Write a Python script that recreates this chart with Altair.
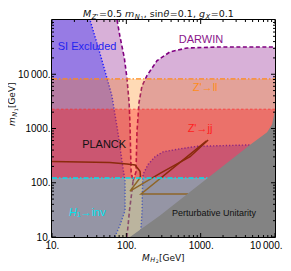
import altair as alt
import pandas as pd

# ---------------- values (GeV) ----------------
x_domain = [10, 10000]
y_domain = [10, 100000]
x_ticks = [10, 100, 1000, 10000]
x_tick_labels = ["10.", "100.", "1000.", "10\u2009000."]
y_ticks = [10, 100, 1000, 10000]
y_tick_labels = ["10.", "100.", "1000.", "10\u2009000."]
minor_multipliers = [2, 3, 4, 5, 6, 7, 8, 9]

# DARWIN projected reach (boundary of the excluded region)
darwin_left_y = [10, 30, 70, 107, 160, 400, 1200, 3000, 8400, 20000, 50000, 100000]
darwin_left_x = [102, 110, 119, 123, 116, 114, 112, 109, 102, 94, 82, 75]
darwin_right_y = [10, 30, 70, 107, 160, 850, 3000, 6000, 9500, 17800, 25900, 30500, 31700]
darwin_right_x = [102, 110, 119, 123, 135, 139, 148, 162, 190, 259, 387, 656, 1660]

# current SI direct-detection exclusion
si_left_y = [10, 16.5, 30.7, 107, 246, 855, 4000, 20100, 100000]
si_left_x = [70, 82, 96, 96, 87.5, 77, 64, 46, 32.5]
si_right_y = [10, 30.7, 80, 143, 217, 302, 372, 422, 470, 498, 500]
si_right_x = [155, 163, 165, 168, 196, 243, 313, 528, 894, 4640, 10000]

# horizontal limits
zll_limit = 8200
zjj_limit = 2270
h1inv_limit = 122

# perturbative unitarity boundary
unit_x = [112, 284, 790, 4640, 7830, 9130, 10000]
unit_y = [10, 25, 75, 500, 855, 1190, 2200]

# PLANCK relic-density contour
planck_a_x = [10, 60, 102, 131, 153, 155, 148, 112, 284, 720, 1260]
planck_a_y = [246, 236, 222, 213, 162, 131, 116, 70, 149, 302, 612]
planck_b_x = [676, 158, 1200]
planck_b_y = [62, 62, 590]

# region labels: text, x, y, colour
region_labels = [
    ("SI Excluded", 29.6, 31800, "#2424f0"),
    ("DARWIN", 1010, 42500, "#8a168a"),
    ("Z'\u2192ll", 1150, 5540, "#ff8c1a"),
    ("Z'\u2192jj", 980, 967, "#ff2020"),
    ("PLANCK", 50.3, 500, "#111111"),
]
unit_label = ("Perturbative Unitarity", 1510, 28.2)
h1_label = ("H", "\u2081\u2192inv", 16.9, 28.2)

# ---------------- layout ----------------
W, H = 223, 217
xscale = alt.Scale(type="log", domain=x_domain, nice=False)
yscale = alt.Scale(type="log", domain=y_domain, nice=False)


def lab_expr(vals, labs):
    e = "''"
    for v, l in zip(vals[::-1], labs[::-1]):
        e = f"datum.value == {v} ? '{l}' : ({e})"
    return e


axis_common = dict(ticks=False, tickSize=0, domain=False, grid=False, title=None,
                   labelFont="Liberation Sans", labelFontSize=10, labelColor="#000000",
                   labelOverlap=False, labelBound=False)
xaxis = alt.Axis(values=x_ticks, labelExpr=lab_expr(x_ticks, x_tick_labels), labelPadding=3,
                 labelFlush=True, labelFlushOffset=7, **axis_common)
yaxis = alt.Axis(values=y_ticks, labelExpr=lab_expr(y_ticks, y_tick_labels), labelPadding=2,
                 labelFlush=False, **axis_common)


def X(f):
    return alt.X(f, type="quantitative", scale=xscale, axis=xaxis)


def Y(f):
    return alt.Y(f, type="quantitative", scale=yscale, axis=yaxis)


def hband(xs, ys, base, color, op):
    df = pd.DataFrame({"x": xs, "y": ys, "xb": [base] * len(xs)})
    return alt.Chart(df).mark_area(orient="horizontal", color=color, opacity=op, clip=True).encode(
        y=Y("y"), x=X("x"), x2=alt.X2("xb"))


def path(segs, color, width, dash=None):
    rows = []
    for k, (xs, ys) in enumerate(segs):
        for i, (a, b) in enumerate(zip(xs, ys)):
            rows.append({"x": a, "y": b, "seg": k, "i": i})
    kw = dict(color=color, strokeWidth=width, clip=True)
    if dash:
        kw["strokeDash"] = dash
    return alt.Chart(pd.DataFrame(rows)).mark_line(**kw).encode(
        x=X("x"), y=Y("y"), detail="seg:N", order="i:Q")


def band(y0, y1, color, op):
    df = pd.DataFrame({"x0": [x_domain[0]], "x1": [x_domain[1]], "y0": [y0], "y1": [y1]})
    return alt.Chart(df).mark_rect(color=color, opacity=op, clip=True).encode(
        x=X("x0"), x2=alt.X2("x1"), y=Y("y0"), y2=alt.Y2("y1"))


def hline(yv, color, width, dash, op=1.0):
    df = pd.DataFrame({"x0": [x_domain[0]], "x1": [x_domain[1]], "y": [yv]})
    return alt.Chart(df).mark_rule(color=color, strokeWidth=width, strokeDash=dash, opacity=op, clip=True).encode(
        x=X("x0"), x2=alt.X2("x1"), y=Y("y"))


def label(t, x, y, color, size=11, font="Liberation Sans", align="center", dx=0, italic=False):
    df = pd.DataFrame({"x": [x], "y": [y], "t": [t]})
    return alt.Chart(df).mark_text(color=color, fontSize=size, font=font, align=align, baseline="middle",
                                   dx=dx, fontStyle="italic" if italic else "normal").encode(
        x=X("x"), y=Y("y"), text="t:N")


# DejaVu Sans advance widths (em) for laying out sub-scripted titles
EM = {" ": 0.318, "'": 0.275, ",": 0.318, ".": 0.318, "=": 0.838, "[": 0.390, "]": 0.390,
      "G": 0.775, "H": 0.752, "M": 0.863, "N": 0.748, "V": 0.684, "X": 0.686, "Z": 0.686,
      "e": 0.615, "g": 0.635, "i": 0.278, "m": 0.974, "n": 0.634, "s": 0.521, "\u03b8": 0.614}


def width(s, size):
    return sum(EM.get(c, 0.636) for c in s) * size


def pieces(parts, start, base, angle=0):
    out = []
    pos = start
    for t, size, italic, shift in parts:
        if angle == 0:
            px, py = pos, base + shift
        else:
            px, py = base + shift, pos
        out.append(alt.Chart(pd.DataFrame({"t": [t]})).mark_text(
            font="DejaVu Sans", fontSize=size, fontStyle="italic" if italic else "normal",
            color="#111111", align="left", baseline="alphabetic", angle=angle).encode(
            x=alt.value(px), y=alt.value(py), text="t:N"))
        step = width(t, size) + (0.6 if italic else 0)
        pos = pos + step if angle == 0 else pos - step
    return out


title_parts = [("M", 9.5, True, 0), ("Z'", 6.8, True, 1.8), ("=0.5 ", 9.5, False, 0),
               ("m", 9.5, True, 0), ("N", 6.8, True, 1.8), ("1", 5.0, False, 2.8),
               (", sin", 9.5, False, 0), ("\u03b8", 9.5, True, 0), ("=0.1, ", 9.5, False, 0),
               ("g", 9.5, True, 0), ("X", 6.8, True, 1.8), ("=0.1", 9.5, False, 0)]
xtitle_parts = [("M", 9, True, 0), ("H", 6.5, True, 1.9), ("2", 4.8, False, 2.8), (" [GeV]", 9, False, 0)]
ytitle_parts = [("m", 9, True, 0), ("N", 6.5, True, 1.9), ("1", 4.8, False, 2.8), (" [GeV]", 9, False, 0)]

layers = []
# DARWIN
layers.append(hband(darwin_left_x, darwin_left_y, x_domain[0], "#800080", 0.31))
layers.append(hband(darwin_right_x, darwin_right_y, x_domain[1], "#800080", 0.31))
layers.append(path([(darwin_left_x, darwin_left_y),
                    (darwin_right_x[3:] + [x_domain[1]], darwin_right_y[3:] + [darwin_right_y[-1]])],
                   "#800080", 1.6, [4, 2.5]))
# SI excluded
layers.append(hband(si_left_x, si_left_y, x_domain[0], "#0000ff", 0.3))
layers.append(hband(si_right_x, si_right_y, x_domain[1], "#0000ff", 0.3))
layers.append(path([(si_left_x, si_left_y), (si_right_x, si_right_y)], "#1a1aff", 1.4, [1.3, 1.9]))
# Z' limits
layers.append(band(h1inv_limit, zll_limit, "#ff8000", 0.29))
layers.append(band(h1inv_limit, zjj_limit, "#ff0000", 0.3))
layers.append(hline(zjj_limit, "#ff2a2a", 1.0, [2.5, 2], 0.7))
layers.append(hline(zll_limit, "#ff8a1a", 1.2, [5, 2, 1.5, 2]))
# PLANCK
layers.append(path([(planck_a_x, planck_a_y), (planck_b_x, planck_b_y)], "#8b2a0c", 1.5))
# H1 -> invisible
layers.append(band(y_domain[0], h1inv_limit, "#94b94f", 0.42))
layers.append(hline(h1inv_limit, "#00e2ee", 1.6, [5, 2, 1.5, 2]))
# perturbative unitarity
unit_df = pd.DataFrame({"x": unit_x, "y": unit_y, "y0": [y_domain[0]] * len(unit_x)})
layers.append(alt.Chart(unit_df).mark_area(color="#838383", opacity=1, clip=True).encode(
    x=X("x"), y=Y("y"), y2=alt.Y2("y0")))
# labels
for t, x, y, c in region_labels:
    layers.append(label(t, x, y, c))
layers.append(label(unit_label[0], unit_label[1], unit_label[2], "#111111", size=9))
layers.append(label(h1_label[0], h1_label[2], h1_label[3], "#00e2ee", align="left", italic=True))
layers.append(label(h1_label[1], h1_label[2], h1_label[3], "#00e2ee", align="left", dx=8))

# frame ticks (inside, on all four sides)
x_minor = [m * d for d in x_ticks[:-1] for m in minor_multipliers]
y_minor = [m * d for d in y_ticks for m in minor_multipliers]
for vals, ln in [(x_ticks, 4), (x_minor, 2)]:
    base = alt.Chart(pd.DataFrame({"v": vals})).mark_rule(color="black", strokeWidth=1)
    layers.append(base.encode(x=X("v"), y=alt.value(H), y2=alt.value(H - ln)))
    layers.append(base.encode(x=X("v"), y=alt.value(0), y2=alt.value(ln)))
for vals, ln in [(y_ticks, 4), (y_minor, 2)]:
    base = alt.Chart(pd.DataFrame({"v": vals})).mark_rule(color="black", strokeWidth=1)
    layers.append(base.encode(y=Y("v"), x=alt.value(0), x2=alt.value(ln)))
    layers.append(base.encode(y=Y("v"), x=alt.value(W), x2=alt.value(W - ln)))

layers.append(alt.Chart(pd.DataFrame({"a": [0]})).mark_rect(filled=False, stroke="black", strokeWidth=1).encode(
    x=alt.value(-0.5), x2=alt.value(W + 0.5), y=alt.value(-0.5), y2=alt.value(H + 0.5)))

# titles (real text, laid out piece by piece for the subscripts)
layers += pieces(title_parts, 31, -3.2)
layers += pieces(xtitle_parts, 90, 240.5)
layers += pieces(ytitle_parts, 106, -37, angle=270)

chart = alt.layer(*layers).properties(
    width=W, height=H,
    autosize=alt.AutoSizeParams(type="none"),
    padding={"left": 44, "top": 12, "right": 8, "bottom": 26},
    background="white",
).configure_view(strokeWidth=0)

chart.save("out.html", embed_options={"renderer": "svg", "actions": False})
